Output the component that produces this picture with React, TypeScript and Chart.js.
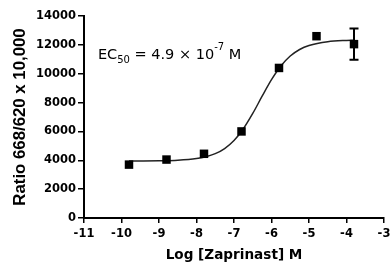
import React, { useEffect, useRef } from "react";
import { Chart, registerables } from "chart.js";

Chart.register(...registerables);

// Measured points: log [Zaprinast] (M) vs ratio 668/620 x 10,000
const logConc = [-9.8, -8.8, -7.8, -6.8, -5.8, -4.8, -3.8];
const ratio = [3700, 4050, 4450, 6000, 10400, 12600, 12050];
const ratioErr = [0, 0, 0, 0, 0, 0, 1080];

// Fitted curve
const fitX = [-9.8, -9.5, -9, -8.5, -8, -7.75, -7.5, -7.25, -7, -6.75, -6.5, -6.25, -6, -5.75, -5.5, -5.25, -5, -4.5, -4, -3.8];
const fitY = [3953, 3955, 3967, 4004, 4118, 4245, 4459, 4815, 5374, 6188, 7245, 8440, 9587, 10536, 11224, 11678, 11957, 12222, 12309, 12324];

const xRange = [-11, -3];
const yRange = [0, 14000];
const yStep = 2000;

const xTitle = "Log [Zaprinast] M";
const yTitle = "Ratio 668/620 x 10,000";
const ec50Text = { main: "EC", sub: "50", mid: " = 4.9 \u00d7 10", sup: "-7", end: " M" };
const ec50Anchor = { x: -10.63, y: 11010 };

const errorBarPlugin = {
  id: "errorBars",
  afterDatasetsDraw(chart: any) {
    const { ctx, scales } = chart;
    const xs = scales.x;
    const ys = scales.y;
    ctx.save();
    ctx.strokeStyle = "#000";
    ctx.lineWidth = 2;
    logConc.forEach((lx, i) => {
      const e = ratioErr[i];
      if (!e) return;
      const px = xs.getPixelForValue(lx);
      const top = ys.getPixelForValue(ratio[i] + e);
      const bot = ys.getPixelForValue(ratio[i] - e);
      ctx.beginPath();
      ctx.moveTo(px, top);
      ctx.lineTo(px, bot);
      ctx.moveTo(px - 4.5, top);
      ctx.lineTo(px + 4.5, top);
      ctx.moveTo(px - 4.5, bot);
      ctx.lineTo(px + 4.5, bot);
      ctx.stroke();
    });
    ctx.restore();
  },
};

const ec50Plugin = {
  id: "ec50",
  afterDraw(chart: any) {
    const { ctx, scales } = chart;
    let x = scales.x.getPixelForValue(ec50Anchor.x);
    const y = scales.y.getPixelForValue(ec50Anchor.y);
    ctx.save();
    ctx.fillStyle = "#000";
    ctx.textBaseline = "alphabetic";
    ctx.textAlign = "left";
    const big = '14.5px "DejaVu Sans"';
    const small = '10px "DejaVu Sans"';
    const parts: [string, string, number][] = [
      [ec50Text.main, big, 0],
      [ec50Text.sub, small, 4],
      [ec50Text.mid, big, 0],
      [ec50Text.sup, small, -9],
      [ec50Text.end, big, 0],
    ];
    parts.forEach(([t, f, dy]) => {
      ctx.font = f;
      ctx.fillText(t, x, y + dy);
      x += ctx.measureText(t).width;
    });
    ctx.restore();
  },
};

export default function App() {
  const ref = useRef<HTMLCanvasElement>(null);
  useEffect(() => {
    if (!ref.current) return;
    const tickFont = { family: "DejaVu Sans", size: 11.5, weight: "bold" as const };
    const chart = new Chart(ref.current, {
      type: "scatter",
      data: {
        datasets: [
          {
            label: "data",
            data: logConc.map((x, i) => ({ x, y: ratio[i] })),
            pointStyle: "rect",
            pointRadius: 6,
            pointHoverRadius: 6,
            backgroundColor: "#000",
            borderColor: "#000",
            borderWidth: 0,
            showLine: false,
            order: 0,
          },
          {
            label: "fit",
            data: fitX.map((x, i) => ({ x, y: fitY[i] })),
            showLine: true,
            pointRadius: 0,
            borderColor: "#222",
            borderWidth: 1.5,
            cubicInterpolationMode: "monotone",
            order: 1,
          },
        ],
      },
      options: {
        responsive: false,
        animation: false,
        devicePixelRatio: 1,
        layout: { padding: { left: 0, right: 6, top: 16, bottom: 0 } },
        plugins: { legend: { display: false }, tooltip: { enabled: false } },
        scales: {
          x: {
            type: "linear",
            min: xRange[0],
            max: xRange[1],
            ticks: { stepSize: 1, color: "#000", font: tickFont, padding: 4, maxRotation: 0, autoSkip: false, callback: (v: any) => String(v) },
            grid: { drawOnChartArea: false, drawTicks: true, tickLength: 5, color: "#000", lineWidth: 1.5 },
            border: { display: true, color: "#000", width: 2 },
            title: {
              display: true,
              text: xTitle,
              color: "#000",
              font: { family: "DejaVu Sans", size: 13.6, weight: "bold" },
              padding: { top: 0, bottom: 2 },
            },
            afterFit: (s: any) => {
              s.paddingLeft = 0;
              s.paddingRight = 0;
              s.height = 48;
            },
          },
          y: {
            type: "linear",
            min: yRange[0],
            max: yRange[1],
            ticks: { stepSize: yStep, color: "#000", font: tickFont, padding: 2, callback: (v: any) => String(v) },
            grid: { drawOnChartArea: false, drawTicks: true, tickLength: 6, color: "#000", lineWidth: 1.5 },
            border: { display: true, color: "#000", width: 2 },
            title: {
              display: true,
              text: yTitle,
              color: "#000",
              font: { family: "Liberation Sans", size: 16.8, weight: "bold" },
              padding: { top: 10, bottom: 0 },
            },
            afterFit: (s: any) => {
              s.paddingTop = 0;
              s.paddingBottom = 0;
              s.width = 84;
            },
          },
        },
      },
      plugins: [errorBarPlugin, ec50Plugin],
    } as any);
    return () => chart.destroy();
  }, []);
  return (
    <div style={{ position: "fixed", left: 0, top: 0, width: 390, height: 266, overflow: "hidden", background: "#fff" }}>
      <canvas ref={ref} width={390} height={266} style={{ display: "block", width: 390, height: 266 }} />
    </div>
  );
}
